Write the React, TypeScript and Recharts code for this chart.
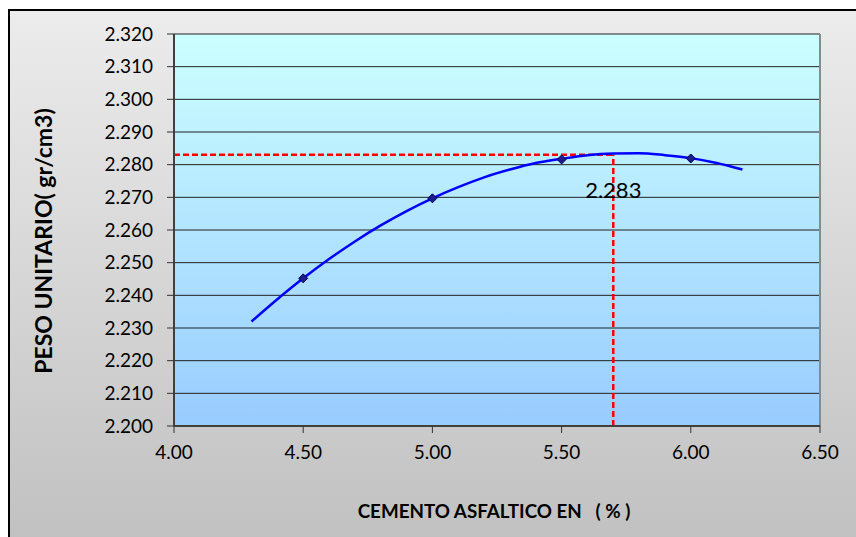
import React from "react";
import {
  ComposedChart,
  Line,
  Scatter,
  XAxis,
  YAxis,
  CartesianGrid,
  ReferenceLine,
  ReferenceDot,
} from "recharts";

// cemento asfaltico (%) vs peso unitario (gr/cm3)
const pointX = [4.5, 5.0, 5.5, 6.0];
const pointY = [2.2452, 2.2697, 2.2816, 2.2819];

// trend curve
const curveX = [4.3, 4.4, 4.5, 4.6, 4.7, 4.8, 4.9, 5.0, 5.1, 5.2, 5.3, 5.4, 5.5, 5.6, 5.7, 5.8, 5.9, 6.0, 6.1, 6.2];
const curveY = [
  2.232, 2.2388, 2.2452, 2.2511, 2.2565, 2.2614, 2.2658, 2.2697, 2.2731, 2.2761,
  2.2785, 2.2805, 2.2818, 2.2829, 2.2834, 2.2835, 2.2829, 2.282, 2.2805, 2.2785,
];

const optimoX = 5.7;
const optimoY = 2.283;
const optimoLabel = "2.283";

const xTicks = [4.0, 4.5, 5.0, 5.5, 6.0, 6.5];
const yTicks = [2.2, 2.21, 2.22, 2.23, 2.24, 2.25, 2.26, 2.27, 2.28, 2.29, 2.3, 2.31, 2.32];

const puntos = pointX.map((x, i) => ({ x, y: pointY[i] }));
const curva = curveX.map((x, i) => ({ x, y: curveY[i] }));
const lineaH = [
  { x: xTicks[0], y: optimoY },
  { x: optimoX, y: optimoY },
];
const lineaV = [
  { x: optimoX, y: yTicks[0] },
  { x: optimoX, y: optimoY },
];

const FONT = "Lato, 'Open Sans', sans-serif";

const Rombo = ({ cx, cy }: any) => {
  const r = 4.5;
  return (
    <polygon
      points={`${cx},${cy - r} ${cx + r},${cy} ${cx},${cy + r} ${cx - r},${cy}`}
      fill="#1c1c8a"
      stroke="#000066"
      strokeWidth={1}
    />
  );
};

const XTitle = ({ viewBox }: any) => (
  <text
    x={viewBox.x + viewBox.width / 2 - 3}
    y={viewBox.y + 87}
    textAnchor="middle"
    dominantBaseline="middle"
    fontFamily={FONT}
    fontWeight="bold"
    fontSize={18.8}
    fill="#000"
    style={{ whiteSpace: "pre" }}
  >
    {"CEMENTO ASFALTICO EN   ( % )"}
  </text>
);

const YTitle = ({ viewBox }: any) => {
  const cx = 46;
  const cy = viewBox.y + viewBox.height / 2 + 11;
  return (
    <text
      x={cx}
      y={cy}
      transform={`rotate(-90 ${cx} ${cy})`}
      textAnchor="middle"
      dominantBaseline="middle"
      fontFamily={FONT}
      fontWeight="bold"
      fontSize={23}
      fill="#000"
    >
      PESO UNITARIO( gr/cm3)
    </text>
  );
};

export default function App() {
  return (
    <>
      <div
        style={{
          position: "fixed",
          left: 8,
          top: 9,
          width: 860,
          height: 540,
          borderLeft: "2px solid #000",
          borderTop: "2px solid #000",
          background: "linear-gradient(to bottom, #ececec, #c0c0c0)",
        }}
      />
      <div style={{ position: "fixed", left: 0, top: 0 }}>
        <ComposedChart
          width={856}
          height={537}
          margin={{ top: 34, right: 36, bottom: 0, left: 0 }}
        >
          <defs>
            <linearGradient id="plotBg" x1="0" y1="0" x2="0" y2="1">
              <stop offset="0%" stopColor="#ccffff" />
              <stop offset="100%" stopColor="#99ccff" />
            </linearGradient>
          </defs>
          <CartesianGrid
            vertical={false}
            stroke="#222"
            strokeWidth={1}
            fill="url(#plotBg)"
            fillOpacity={1}
          />
          <XAxis
            type="number"
            dataKey="x"
            domain={[4, 6.5]}
            ticks={xTicks}
            tickFormatter={(v: number) => v.toFixed(2)}
            height={111}
            tickSize={7}
            tickMargin={13}
            stroke="#404040"
            strokeWidth={2}
            tick={{ fill: "#000", fontSize: 19, fontFamily: FONT }}
            tickLine={{ stroke: "#333", strokeWidth: 1 }}
            label={<XTitle />}
            allowDataOverflow
          />
          <YAxis
            type="number"
            dataKey="y"
            domain={[2.2, 2.32]}
            ticks={yTicks}
            tickFormatter={(v: number) => v.toFixed(3)}
            width={174}
            tickSize={7}
            tickMargin={14}
            stroke="#404040"
            strokeWidth={2}
            tick={{ fill: "#000", fontSize: 19, fontFamily: FONT }}
            tickLine={{ stroke: "#333", strokeWidth: 1 }}
            label={<YTitle />}
            allowDataOverflow
          />
          <ReferenceLine x={6.5} stroke="#8a8a8a" strokeWidth={2} />
          <Line
            data={lineaH}
            dataKey="y"
            stroke="#ff0000"
            strokeWidth={2.5}
            strokeDasharray="6 3"
            dot={false}
            activeDot={false}
            isAnimationActive={false}
          />
          <Line
            data={lineaV}
            dataKey="y"
            stroke="#ff0000"
            strokeWidth={2.5}
            strokeDasharray="6 3"
            dot={false}
            activeDot={false}
            isAnimationActive={false}
          />
          <Line
            data={curva}
            dataKey="y"
            type="monotone"
            stroke="#0000ff"
            strokeWidth={2.5}
            dot={false}
            activeDot={false}
            isAnimationActive={false}
          />
          <Scatter
            data={puntos}
            dataKey="y"
            shape={<Rombo />}
            legendType="none"
            isAnimationActive={false}
          />
          <ReferenceDot
            x={optimoX}
            y={2.2722}
            r={0}
            fill="none"
            stroke="none"
            label={{
              value: optimoLabel,
              position: "center",
              fontSize: 22,
              fontFamily: FONT,
              fill: "#000",
            }}
          />
        </ComposedChart>
      </div>
    </>
  );
}
